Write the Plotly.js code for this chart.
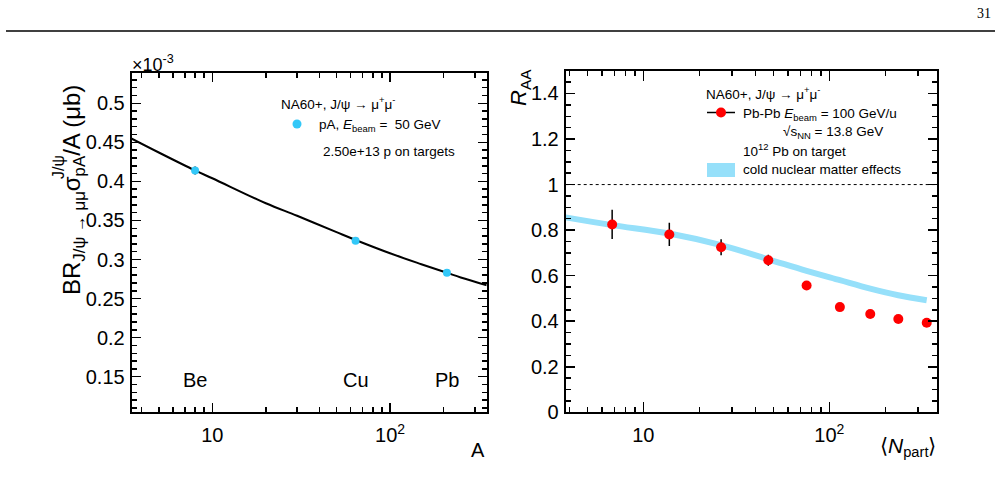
<!DOCTYPE html>
<html>
<head>
<meta charset="utf-8">
<script src="https://cdn.plot.ly/plotly-3.0.1.min.js"></script>
<style>
  html, body { margin: 0; padding: 0; background: #ffffff; }
  #chart { width: 999px; height: 487px; }
</style>
</head>
<body>
<div id="chart"></div>
<script>
// ---- pA collisions: J/psi cross section per nucleon versus target mass number A ----
const targetNames = ['Be', 'Cu', 'Pb'];
const targetA = [8, 64, 209];
const sigmaOverA = [0.414, 0.324, 0.283];      // in units of 10^-3 ub
const sigmaOverAErr = [0.005, 0.002, 0.002];
const targetLabelLevel = 0.146;

// power-law fit through the three targets
const fitA = [3.5, 5, 8, 10, 20, 30, 50, 64, 100, 150, 209, 250, 350];
const fitSigma = [0.455, 0.437, 0.414, 0.404, 0.372, 0.356, 0.335, 0.325, 0.308, 0.294, 0.283, 0.277, 0.267];

// ---- Pb-Pb collisions: nuclear modification factor versus <Npart> ----
const npart = [6.8, 13.8, 26.2, 47, 75.5, 114, 166, 235, 334];
const raa = [0.825, 0.781, 0.725, 0.668, 0.557, 0.462, 0.432, 0.410, 0.393];
const raaErr = [0.064, 0.051, 0.035, 0.024, 0.012, 0.010, 0.010, 0.010, 0.010];

// expectation from cold nuclear matter effects
const cnmNpart = [3.82, 6.8, 13.8, 26.2, 47, 75.5, 114, 166, 235, 334];
const cnmRaa = [0.856, 0.822, 0.785, 0.734, 0.672, 0.621, 0.580, 0.543, 0.514, 0.492];

const unityLevel = 1;

// ---- tick labels ----
const logMajorTicks = [10, 100];
const logMajorText = ['10', '10<sup>2</sup>'];
const logMinorTicks = [4, 5, 6, 7, 8, 9, 20, 30, 40, 50, 60, 70, 80, 90, 200, 300];
const leftYTicks = [0.15, 0.2, 0.25, 0.3, 0.35, 0.4, 0.45, 0.5];
const rightYTicks = [0, 0.2, 0.4, 0.6, 0.8, 1, 1.2, 1.4];

// ---- styling ----
const FONT = 'Liberation Sans, Arial, Helvetica, sans-serif';
const W = 999, H = 487;
const px = v => v / W;          // pixel -> paper x
const py = v => 1 - v / H;      // pixel -> paper y
const CYAN = '#33c8f8';
const RED = '#ff0000';
const BAND = '#96e0fa';
const TICK_SIZE = 20;

const traces = [
  {
    x: fitA, y: fitSigma, xaxis: 'x', yaxis: 'y',
    type: 'scatter', mode: 'lines',
    line: { color: '#000000', width: 2, shape: 'spline' },
    hoverinfo: 'skip', showlegend: false
  },
  {
    x: targetA, y: sigmaOverA, xaxis: 'x', yaxis: 'y',
    type: 'scatter', mode: 'markers', text: targetNames,
    marker: { color: CYAN, size: 8 },
    error_y: { type: 'data', array: sigmaOverAErr, color: '#000000', thickness: 1.5, width: 0 },
    showlegend: false
  },
  {
    x: cnmNpart, y: cnmRaa, xaxis: 'x2', yaxis: 'y2',
    type: 'scatter', mode: 'lines',
    line: { color: BAND, width: 6, shape: 'spline' },
    hoverinfo: 'skip', showlegend: false
  },
  {
    x: npart, y: raa, xaxis: 'x2', yaxis: 'y2',
    type: 'scatter', mode: 'markers',
    marker: { color: RED, size: 10 },
    error_y: { type: 'data', array: raaErr, color: '#000000', thickness: 1.5, width: 0 },
    showlegend: false
  }
];

function logAxis(domain, range, anchor, majorLen) {
  return {
    type: 'log', domain: domain, range: range, anchor: anchor,
    tickmode: 'array', tickvals: logMajorTicks, ticktext: logMajorText,
    ticks: 'inside', ticklen: majorLen, tickwidth: 1.5, tickcolor: '#000',
    minor: { tickmode: 'array', tickvals: logMinorTicks, ticks: 'inside', ticklen: 5, tickwidth: 1.5, tickcolor: '#000', showgrid: false },
    showline: true, linewidth: 2, linecolor: '#000', mirror: 'allticks',
    showgrid: false, zeroline: false,
    tickfont: { family: FONT, size: TICK_SIZE, color: '#000' },
    ticklabelstandoff: 4
  };
}

function linAxis(domain, range, anchor, vals, minorStep) {
  return {
    domain: domain, range: range, anchor: anchor,
    tickmode: 'array', tickvals: vals,
    ticks: 'inside', ticklen: 9, tickwidth: 1.5, tickcolor: '#000',
    minor: { tick0: 0, dtick: minorStep, ticks: 'inside', ticklen: 5, tickwidth: 1.5, tickcolor: '#000', showgrid: false },
    showline: true, linewidth: 2, linecolor: '#000', mirror: 'allticks',
    showgrid: false, zeroline: false,
    tickfont: { family: FONT, size: TICK_SIZE, color: '#000' },
    ticklabelstandoff: 1
  };
}

function note(text, x, y, size, opts) {
  return Object.assign({
    text: text, xref: 'paper', yref: 'paper', x: px(x), y: py(y),
    xanchor: 'left', yanchor: 'middle', showarrow: false,
    font: { family: FONT, size: size, color: '#000' }
  }, opts || {});
}

const annotations = [
  // page number
  note('31', 993, 14, 14, { xanchor: 'right', font: { family: 'Liberation Serif, Times New Roman, serif', size: 14, color: '#000' } }),

  // left panel
  note('×10<sup>-3</sup>', 130, 64, 18),
  note('BR<sub>J/ψ → μμ</sub>σ<sub>pA</sub>/A (μb)', 73, 190, 24, { xanchor: 'center', textangle: -90 }),
  note('J/ψ', 58, 167, 16, { xanchor: 'center', textangle: -90 }),
  note('A', 487, 450, 20, { xanchor: 'right' }),
  note('NA60+, J/ψ → μ<sup>+</sup>μ<sup>-</sup>', 279, 103, 13.5),
  note('pA, <i>E</i><sub>beam</sub> =  50 GeV', 317, 126, 13.5),
  note('2.50e+13 p on targets', 321, 152, 13.5),

  // right panel
  note('<i>R</i><sub>AA</sub>', 520, 88, 22, { xanchor: 'center', textangle: -90 }),
  note('⟨<i>N</i><sub>part</sub>⟩', 938, 447, 21, { xanchor: 'right' }),
  note('NA60+, J/ψ → μ<sup>+</sup>μ<sup>-</sup>', 704, 93, 13.5),
  note('Pb-Pb <i>E</i><sub>beam</sub> = 100 GeV/u', 741, 114, 13.5),
  note('√s<sub>NN</sub> = 13.8 GeV', 781, 132, 13.5),
  note('10<sup>12</sup> Pb on target', 741, 150, 13.5),
  note('cold nuclear matter effects', 741, 170, 13.5)
];

// target names written under the points
targetNames.forEach((name, i) => {
  annotations.push({
    text: name, xref: 'x', yref: 'y', x: Math.log10(targetA[i]), y: targetLabelLevel,
    xanchor: 'center', yanchor: 'middle', showarrow: false,
    font: { family: FONT, size: 20, color: '#000' }
  });
});

const shapes = [
  // header rule
  { type: 'line', xref: 'paper', yref: 'paper', x0: px(6), x1: px(995), y0: py(31), y1: py(31), line: { color: '#000', width: 1.5 } },
  // R_AA = 1 reference
  { type: 'line', xref: 'x2 domain', yref: 'y2', x0: 0, x1: 1, y0: unityLevel, y1: unityLevel, line: { color: '#000', width: 1, dash: 'dot' } },
  // left legend marker
  { type: 'circle', xref: 'paper', yref: 'paper', x0: px(292.5), x1: px(301.5), y0: py(128.5), y1: py(119.5), fillcolor: CYAN, line: { width: 0 } },
  // right legend: data marker with bar
  { type: 'line', xref: 'paper', yref: 'paper', x0: px(707), x1: px(735), y0: py(112.5), y1: py(112.5), line: { color: '#000', width: 1.5 } },
  { type: 'circle', xref: 'paper', yref: 'paper', x0: px(716), x1: px(726), y0: py(117.5), y1: py(107.5), fillcolor: RED, line: { width: 0 } },
  // right legend: band swatch
  { type: 'rect', xref: 'paper', yref: 'paper', x0: px(707), x1: px(735), y0: py(177), y1: py(163), fillcolor: BAND, line: { width: 0 } }
];

const layout = {
  width: W, height: H,
  margin: { l: 0, r: 0, t: 0, b: 0 },
  paper_bgcolor: '#ffffff', plot_bgcolor: '#ffffff',
  font: { family: FONT, color: '#000' },
  showlegend: false,
  xaxis: logAxis([px(131.7), px(486.7)], [0.5464, 2.544], 'y', 9),
  yaxis: linAxis([py(412.3), py(73.3)], [0.1044, 0.5384], 'x', leftYTicks, 0.01),
  xaxis2: logAxis([px(565.7), px(936.7)], [0.5828, 2.5774], 'y2', 10),
  yaxis2: linAxis([py(412.3), py(70.7)], [0, 1.5], 'x2', rightYTicks, 0.05),
  annotations: annotations,
  shapes: shapes
};

Plotly.newPlot('chart', traces, layout, { staticPlot: true, displayModeBar: false });
</script>
</body>
</html>
